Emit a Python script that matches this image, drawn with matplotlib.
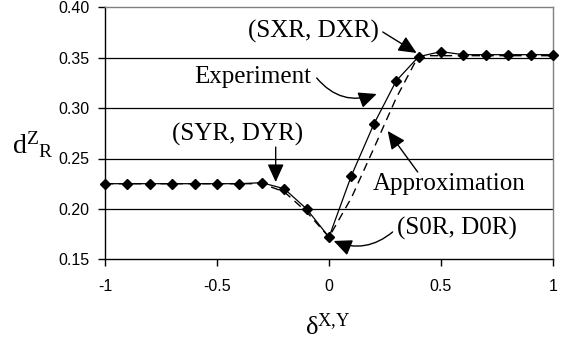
import matplotlib
matplotlib.use("Agg")
import matplotlib.pyplot as plt

plt.rcParams['mathtext.fontset'] = 'custom'
plt.rcParams['mathtext.rm'] = 'Liberation Serif'
plt.rcParams['mathtext.it'] = 'Liberation Serif:italic'

# Data
x_vals = [-1.0, -0.9, -0.8, -0.7, -0.6, -0.5, -0.4, -0.3, -0.2, -0.1, 0.0,
          0.1, 0.2, 0.3, 0.4, 0.5, 0.6, 0.7, 0.8, 0.9, 1.0]
experiment = [0.225, 0.225, 0.225, 0.225, 0.225, 0.225, 0.225, 0.226, 0.220, 0.200, 0.172,
              0.233, 0.284, 0.327, 0.351, 0.356, 0.353, 0.353, 0.353, 0.353, 0.353]
approximation = [0.225, 0.225, 0.225, 0.225, 0.225, 0.225, 0.225, 0.225, 0.217, 0.197, 0.172,
                 0.211, 0.260, 0.310, 0.352, 0.352, 0.352, 0.352, 0.352, 0.352, 0.352]
x_ticks = [-1, -0.5, 0, 0.5, 1]
x_tick_labels = ['-1', '-0.5', '0', '0.5', '1']
y_ticks = [0.15, 0.20, 0.25, 0.30, 0.35, 0.40]
y_tick_labels = ['0.15', '0.20', '0.25', '0.30', '0.35', '0.40']

W, H = 561, 343
fig = plt.figure(figsize=(W / 100, H / 100), dpi=100)
ax = fig.add_axes([105 / W, (H - 259.3) / H, (553 - 105) / W, (259.3 - 7.3) / H])

ax.set_xlim(-1, 1)
ax.set_ylim(0.15, 0.40)
for yv in y_ticks[1:-1]:
    ax.axhline(yv, color='black', lw=0.9, zorder=1)

ax.plot(x_vals, approximation, color='black', lw=1.0, ls=(0, (6, 4)), zorder=2)
ax.plot(x_vals, experiment, color='black', lw=0.9, marker='D', ms=5.5, zorder=3,
        clip_on=False)

ax.set_xticks(x_ticks)
ax.set_xticklabels(x_tick_labels)
ax.set_yticks(y_ticks)
ax.set_yticklabels(y_tick_labels)
ax.tick_params(direction='out', length=5, width=1, color='black',
               labelsize=11.5, pad=6)
for lab in ax.get_xticklabels() + ax.get_yticklabels():
    lab.set_family('Liberation Sans')
ax.tick_params(axis='x', pad=9)

ax.spines['left'].set_color('black')
ax.spines['bottom'].set_color('black')
ax.spines['right'].set_color('#808080')
ax.spines['top'].set_color('#808080')
for s in ax.spines.values():
    s.set_linewidth(1.0)

serif = 'Liberation Serif'
fs = 18
ax.text(-0.363, 0.3695, '(SXR, DXR)', family=serif, fontsize=fs, ha='left', va='baseline')
ax.text(-0.600, 0.3245, 'Experiment', family=serif, fontsize=fs, ha='left', va='baseline')
ax.text(-0.702, 0.2674, '(SYR, DYR)', family=serif, fontsize=fs, ha='left', va='baseline')
ax.text(0.195, 0.2188, 'Approximation', family=serif, fontsize=fs, ha='left', va='baseline')
ax.text(0.304, 0.1745, '(S0R, D0R)', family=serif, fontsize=fs, ha='left', va='baseline')

arrow = dict(arrowstyle='-|>,head_length=1.1,head_width=0.5', color='black',
             lw=1.0, shrinkA=0, shrinkB=0)

ax.annotate('', xy=(0.391, 0.3547), xytext=(0.240, 0.3755),
            arrowprops=dict(arrow, connectionstyle='arc3,rad=0.0'))
ax.annotate('', xy=(0.213, 0.3140), xytext=(-0.055, 0.3299),
            arrowprops=dict(arrow, connectionstyle='arc3,rad=0.35'))
ax.annotate('', xy=(-0.238, 0.2266), xytext=(-0.238, 0.2613),
            arrowprops=dict(arrow, connectionstyle='arc3,rad=0.0'))
ax.annotate('', xy=(0.262, 0.2773), xytext=(0.396, 0.2366),
            arrowprops=dict(arrow, connectionstyle='arc3,rad=0.0'))
ax.annotate('', xy=(0.021, 0.1682), xytext=(0.284, 0.1771),
            arrowprops=dict(arrow, connectionstyle='arc3,rad=-0.3'))

fig.text(12 / W, (H - 154) / H, r'$\mathrm{d}^{\mathrm{Z}}{}_{\mathrm{R}}$',
         fontsize=20, ha='left', va='baseline')
fig.text(305 / W, (H - 335) / H, r'$\mathrm{δ}^{\mathrm{X{,}Y}}$',
         fontsize=19, ha='left', va='baseline')

fig.savefig('out.png', dpi=100)
